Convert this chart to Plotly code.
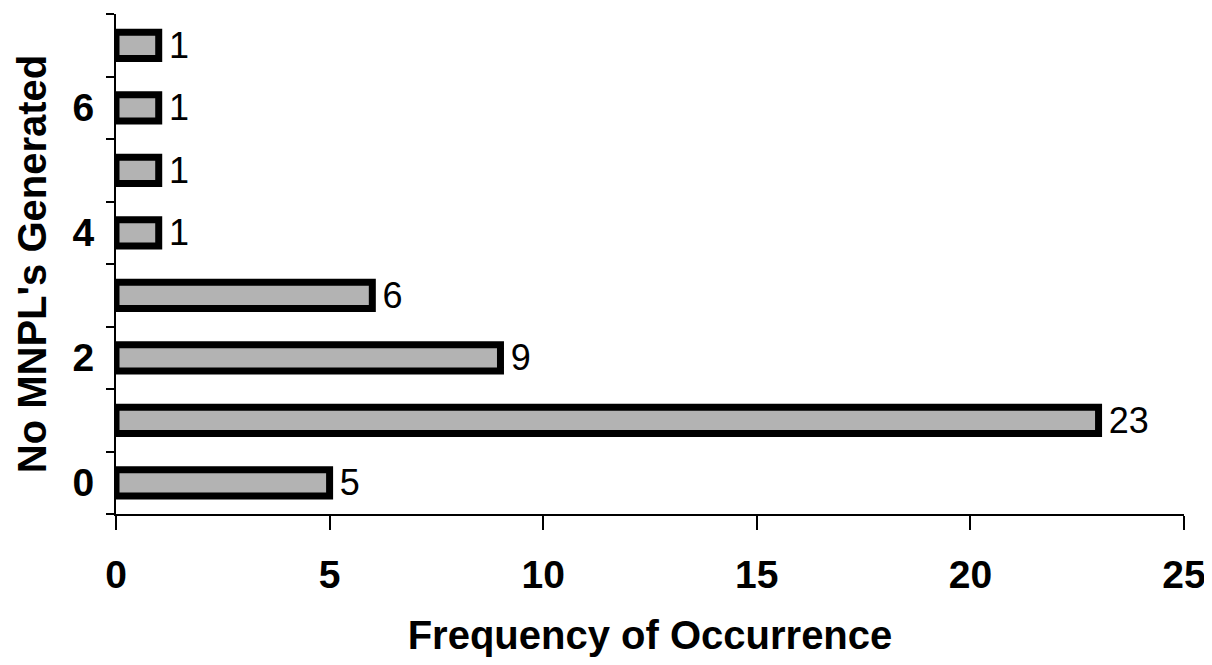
import plotly.graph_objects as go

categories = [0, 1, 2, 3, 4, 5, 6, 7]
frequency = [5, 23, 9, 6, 1, 1, 1, 1]
x_ticks = [0, 5, 10, 15, 20, 25]
y_label_ticks = [0, 2, 4, 6]

FONT = "Liberation Sans, Arial, sans-serif"

fig = go.Figure(
    go.Bar(
        x=frequency,
        y=categories,
        orientation="h",
        width=0.42,
        marker=dict(color="#b3b3b3", line=dict(color="black", width=7)),
        text=["\u2009" + str(v) for v in frequency],
        textposition="outside",
        constraintext="none",
        textfont=dict(family=FONT, size=36, color="black"),
        cliponaxis=False,
    )
)

fig.update_layout(
    width=1204,
    height=649,
    margin=dict(l=108, r=28, t=6, b=143),
    plot_bgcolor="white",
    paper_bgcolor="white",
    showlegend=False,
    font=dict(family=FONT, color="black"),
)

fig.update_xaxes(
    range=[0, 25],
    tickvals=x_ticks,
    ticks="outside",
    ticklen=14,
    tickwidth=2,
    tickcolor="black",
    showline=True,
    linecolor="black",
    linewidth=2,
    showgrid=False,
    zeroline=False,
    automargin=False,
    ticklabeloverflow="allow",
    tickfont=dict(family=FONT, size=39, color="black", weight="bold"),
    ticklabelstandoff=11,
    title=dict(
        text="Frequency of Occurrence",
        font=dict(family=FONT, size=40, color="black", weight="bold"),
        standoff=37,
    ),
)

fig.update_yaxes(
    range=[-0.5, 7.5],
    tickvals=y_label_ticks,
    ticks="",
    showline=True,
    linecolor="black",
    linewidth=2,
    showgrid=False,
    zeroline=False,
    automargin=False,
    tickfont=dict(family=FONT, size=39, color="black", weight="bold"),
    ticklabelstandoff=12,
    minor=dict(
        tickvals=[c - 0.5 for c in categories] + [categories[-1] + 0.5],
        ticks="outside",
        ticklen=8,
        tickwidth=2,
        tickcolor="black",
        showgrid=False,
    ),
    title=dict(
        text="No MNPL's Generated",
        font=dict(family=FONT, size=40, color="black", weight="bold"),
        standoff=13,
    ),
)

fig.write_html("out.html")
